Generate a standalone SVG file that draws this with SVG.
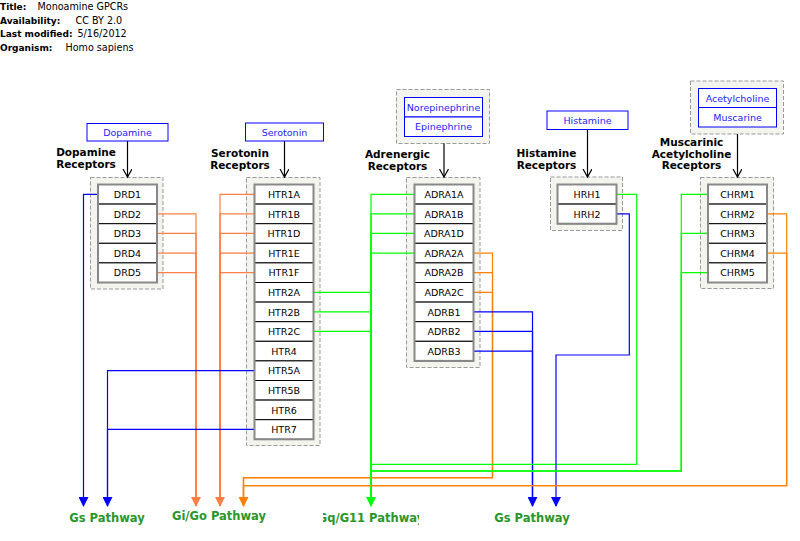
<svg xmlns="http://www.w3.org/2000/svg" width="800" height="541" viewBox="0 0 800 541">
<style>
text{font-family:"DejaVu Sans","Liberation Sans",sans-serif}
.hd{font-size:9.6px;fill:#000}
.hd .b{font-weight:bold;font-size:9px}
.grp{fill:#f4f4ee;stroke:#999;stroke-width:1;stroke-dasharray:4,2}
.stack{fill:none;stroke:#888;stroke-width:2}
.node rect{fill:#fff;stroke:#000;stroke-width:1}
.node text{font-size:9.5px;text-anchor:middle;fill:#000}
.met rect{fill:#fff;stroke:#00f;stroke-width:1}
.met text{font-size:9.5px;text-anchor:middle;fill:#22f}
.lbl{font-size:10.5px;font-weight:bold;text-anchor:middle;fill:#000}
.pw{font-size:11.5px;font-weight:bold;text-anchor:middle;fill:#2a962a}
.c{fill:none;stroke-width:1.2}
.blue{stroke:#0000ff}
.coral{stroke:#ff7f45}
.org{stroke:#ff8000}
.grn{stroke:#00ff00}
.ma{fill:none;stroke:#000;stroke-width:1.2}
</style>
<defs>
<marker id="aB" markerWidth="10" markerHeight="10" refX="9" refY="5" orient="auto" markerUnits="userSpaceOnUse"><path d="M0,0 L10,5 L0,10 Z" fill="#0000ff"/></marker>
<marker id="aC" markerWidth="10" markerHeight="10" refX="9" refY="5" orient="auto" markerUnits="userSpaceOnUse"><path d="M0,0 L10,5 L0,10 Z" fill="#ff7f45"/></marker>
<marker id="aO" markerWidth="10" markerHeight="10" refX="9" refY="5" orient="auto" markerUnits="userSpaceOnUse"><path d="M0,0 L10,5 L0,10 Z" fill="#ff8000"/></marker>
<marker id="aG" markerWidth="10" markerHeight="10" refX="9" refY="5" orient="auto" markerUnits="userSpaceOnUse"><path d="M0,0 L10,5 L0,10 Z" fill="#00ff00"/></marker>
<marker id="aV" markerWidth="10" markerHeight="10" refX="8" refY="4.5" orient="auto" markerUnits="userSpaceOnUse"><path d="M0,0 L8,4.5 L0,9" fill="none" stroke="#000" stroke-width="1.2"/></marker>
<clipPath id="gqclip"><rect x="323" y="505" width="96" height="25"/></clipPath>
</defs>

<g class="hd">
<text x="0" y="10"><tspan class="b">Title:</tspan></text><text x="37.5" y="10">Monoamine GPCRs</text>
<text x="0" y="23.5"><tspan class="b">Availability:</tspan></text><text x="75.5" y="23.5">CC BY 2.0</text>
<text x="0" y="37"><tspan class="b">Last modified:</tspan></text><text x="77.5" y="37">5/16/2012</text>
<text x="0" y="50.5"><tspan class="b">Organism:</tspan></text><text x="65.5" y="50.5">Homo sapiens</text>
</g>

<!-- group boxes -->
<g id="groups">
<rect class="grp" x="90.5" y="177.5" width="72.5" height="111.5"/>
<rect class="grp" x="246.5" y="177.5" width="73.5" height="268"/>
<rect class="grp" x="406.5" y="177.5" width="73.5" height="190"/>
<rect class="grp" x="550.5" y="177" width="72" height="53.5"/>
<rect class="grp" x="700.5" y="177.5" width="73" height="111"/>
<rect class="grp" x="396.5" y="89.5" width="93" height="54"/>
<rect class="grp" x="690.5" y="81" width="93" height="53"/>
</g>

<!-- connectors -->
<g id="connectors">
<path class="ma" d="M127.5,141 V177" marker-end="url(#aV)"/>
<path class="ma" d="M284.5,141 V177" marker-end="url(#aV)"/>
<path class="ma" d="M444,143.5 V177" marker-end="url(#aV)"/>
<path class="ma" d="M587.5,129.5 V177" marker-end="url(#aV)"/>
<path class="ma" d="M737.5,134 V177" marker-end="url(#aV)"/>

<path class="c blue" d="M98,194.3 H83.5 V506" marker-end="url(#aB)"/>
<path class="c coral" d="M157,213.9 H196 V506" marker-end="url(#aC)"/>
<path class="c coral" d="M157,233.3 H196 V506"/>
<path class="c coral" d="M157,253.1 H196 V506"/>
<path class="c coral" d="M157,272.7 H196 V506"/>

<path class="c coral" d="M254.5,194.3 H220 V506" marker-end="url(#aC)"/>
<path class="c coral" d="M254.5,213.9 H220 V506"/>
<path class="c coral" d="M254.5,233.3 H220 V506"/>
<path class="c coral" d="M254.5,253.1 H220 V506"/>
<path class="c coral" d="M254.5,272.7 H220 V506"/>
<path class="c grn" d="M313.5,292.3 H371 V506" marker-end="url(#aG)"/>
<path class="c grn" d="M313.5,311.9 H371 V506"/>
<path class="c grn" d="M313.5,331.3 H371 V506"/>
<path class="c blue" d="M254.5,370.7 H107.5 V506" marker-end="url(#aB)"/>
<path class="c blue" d="M254.5,429.3 H107.5 V506"/>

<path class="c grn" d="M414.5,194.3 H371 V506"/>
<path class="c grn" d="M414.5,213.9 H371 V506"/>
<path class="c grn" d="M414.5,233.3 H371 V506"/>
<path class="c grn" d="M414.5,253.1 H371 V506"/>
<path class="c org" d="M473.5,253.1 H492.5 V477.7 H243.5 V506" marker-end="url(#aO)"/>
<path class="c org" d="M473.5,272.7 H492.5 V477.7 H243.5 V506"/>
<path class="c org" d="M473.5,292.3 H492.5 V477.7 H243.5 V506"/>
<path class="c blue" d="M473.5,311.9 H532.5 V506" marker-end="url(#aB)"/>
<path class="c blue" d="M473.5,331.3 H532.5 V506"/>
<path class="c blue" d="M473.5,351.1 H532.5 V506"/>

<path class="c grn" d="M616.5,194.3 H636.7 V464.3 H371 V506"/>
<path class="c blue" d="M616.5,213.9 H629.3 V355 H556 V506" marker-end="url(#aB)"/>

<path class="c grn" d="M708,194.3 H681.3 V471 H371 V506"/>
<path class="c grn" d="M708,233.3 H681.3 V471 H371 V506"/>
<path class="c grn" d="M708,272.7 H681.3 V471 H371 V506"/>
<path class="c org" d="M767,213.9 H786.7 V485.7 H243.5 V506"/>
<path class="c org" d="M767,253.1 H786.7 V485.7 H243.5 V506"/>
</g>

<!-- metabolites -->
<g id="Dopamine" class="met"><rect x="87" y="123.5" width="81" height="17.5"/><text x="127.5" y="135.5">Dopamine</text></g>
<g id="Serotonin" class="met"><rect x="245.5" y="123" width="78" height="18"/><text x="284.5" y="135.5">Serotonin</text></g>
<g id="Norepinephrine" class="met"><rect x="404.5" y="97.5" width="78" height="19.5"/><text x="443.5" y="110.5">Norepinephrine</text></g>
<g id="Epinephrine" class="met"><rect x="404.5" y="117" width="78" height="19.5"/><text x="443.5" y="130">Epinephrine</text></g>
<g id="Histamine" class="met"><rect x="547" y="111" width="81" height="18.5"/><text x="587.5" y="123.5">Histamine</text></g>
<g id="Acetylcholine" class="met"><rect x="698.5" y="88.5" width="78" height="19"/><text x="737.5" y="101.5">Acetylcholine</text></g>
<g id="Muscarine" class="met"><rect x="698.5" y="107.5" width="78" height="19.5"/><text x="737.5" y="120.5">Muscarine</text></g>

<!-- receptor labels -->
<g id="labels">
<text class="lbl" x="86" y="155.5">Dopamine</text><text class="lbl" x="86" y="167.5">Receptors</text>
<text class="lbl" x="240" y="156.5">Serotonin</text><text class="lbl" x="240" y="168.5">Receptors</text>
<text class="lbl" x="397.5" y="157.5">Adrenergic</text><text class="lbl" x="397.5" y="169.5">Receptors</text>
<text class="lbl" x="546.5" y="156.5">Histamine</text><text class="lbl" x="546.5" y="168.5">Receptors</text>
<text class="lbl" x="691.5" y="146">Muscarinic</text><text class="lbl" x="691.5" y="157.5">Acetylcholine</text><text class="lbl" x="691.5" y="169">Receptors</text>
</g>

<!-- Dopamine receptors -->
<g id="DRD1" class="node"><rect x="98" y="184.5" width="59" height="19.6"/><text x="127.5" y="198">DRD1</text></g>
<g id="DRD2" class="node"><rect x="98" y="204.1" width="59" height="19.6"/><text x="127.5" y="217.6">DRD2</text></g>
<g id="DRD3" class="node"><rect x="98" y="223.7" width="59" height="19.6"/><text x="127.5" y="237.2">DRD3</text></g>
<g id="DRD4" class="node"><rect x="98" y="243.3" width="59" height="19.6"/><text x="127.5" y="256.8">DRD4</text></g>
<g id="DRD5" class="node"><rect x="98" y="262.9" width="59" height="19.6"/><text x="127.5" y="276.4">DRD5</text></g>
<rect class="stack" x="98" y="184.5" width="59" height="98"/>

<!-- Serotonin receptors -->
<g id="HTR1A" class="node"><rect x="254.5" y="184.5" width="59" height="19.6"/><text x="284" y="198">HTR1A</text></g>
<g id="HTR1B" class="node"><rect x="254.5" y="204.1" width="59" height="19.6"/><text x="284" y="217.6">HTR1B</text></g>
<g id="HTR1D" class="node"><rect x="254.5" y="223.7" width="59" height="19.6"/><text x="284" y="237.2">HTR1D</text></g>
<g id="HTR1E" class="node"><rect x="254.5" y="243.3" width="59" height="19.6"/><text x="284" y="256.8">HTR1E</text></g>
<g id="HTR1F" class="node"><rect x="254.5" y="262.9" width="59" height="19.6"/><text x="284" y="276.4">HTR1F</text></g>
<g id="HTR2A" class="node"><rect x="254.5" y="282.5" width="59" height="19.6"/><text x="284" y="296">HTR2A</text></g>
<g id="HTR2B" class="node"><rect x="254.5" y="302.1" width="59" height="19.6"/><text x="284" y="315.6">HTR2B</text></g>
<g id="HTR2C" class="node"><rect x="254.5" y="321.7" width="59" height="19.6"/><text x="284" y="335.2">HTR2C</text></g>
<g id="HTR4" class="node"><rect x="254.5" y="341.3" width="59" height="19.6"/><text x="284" y="354.8">HTR4</text></g>
<g id="HTR5A" class="node"><rect x="254.5" y="360.9" width="59" height="19.6"/><text x="284" y="374.4">HTR5A</text></g>
<g id="HTR5B" class="node"><rect x="254.5" y="380.5" width="59" height="19.6"/><text x="284" y="394">HTR5B</text></g>
<g id="HTR6" class="node"><rect x="254.5" y="400.1" width="59" height="19.6"/><text x="284" y="413.6">HTR6</text></g>
<g id="HTR7" class="node"><rect x="254.5" y="419.7" width="59" height="19.6"/><text x="284" y="433.2">HTR7</text></g>
<rect class="stack" x="254.5" y="184.5" width="59" height="254.8"/>

<!-- Adrenergic receptors -->
<g id="ADRA1A" class="node"><rect x="414.5" y="184.5" width="59" height="19.6"/><text x="444" y="198">ADRA1A</text></g>
<g id="ADRA1B" class="node"><rect x="414.5" y="204.1" width="59" height="19.6"/><text x="444" y="217.6">ADRA1B</text></g>
<g id="ADRA1D" class="node"><rect x="414.5" y="223.7" width="59" height="19.6"/><text x="444" y="237.2">ADRA1D</text></g>
<g id="ADRA2A" class="node"><rect x="414.5" y="243.3" width="59" height="19.6"/><text x="444" y="256.8">ADRA2A</text></g>
<g id="ADRA2B" class="node"><rect x="414.5" y="262.9" width="59" height="19.6"/><text x="444" y="276.4">ADRA2B</text></g>
<g id="ADRA2C" class="node"><rect x="414.5" y="282.5" width="59" height="19.6"/><text x="444" y="296">ADRA2C</text></g>
<g id="ADRB1" class="node"><rect x="414.5" y="302.1" width="59" height="19.6"/><text x="444" y="315.6">ADRB1</text></g>
<g id="ADRB2" class="node"><rect x="414.5" y="321.7" width="59" height="19.6"/><text x="444" y="335.2">ADRB2</text></g>
<g id="ADRB3" class="node"><rect x="414.5" y="341.3" width="59" height="19.6"/><text x="444" y="354.8">ADRB3</text></g>
<rect class="stack" x="414.5" y="184.5" width="59" height="176.4"/>

<!-- Histamine receptors -->
<g id="HRH1" class="node"><rect x="557.5" y="184.5" width="59" height="19.6"/><text x="587" y="198">HRH1</text></g>
<g id="HRH2" class="node"><rect x="557.5" y="204.1" width="59" height="19.6"/><text x="587" y="217.6">HRH2</text></g>
<rect class="stack" x="557.5" y="184.5" width="59" height="39.2"/>

<!-- Muscarinic receptors -->
<g id="CHRM1" class="node"><rect x="708" y="184.5" width="59" height="19.6"/><text x="737.5" y="198">CHRM1</text></g>
<g id="CHRM2" class="node"><rect x="708" y="204.1" width="59" height="19.6"/><text x="737.5" y="217.6">CHRM2</text></g>
<g id="CHRM3" class="node"><rect x="708" y="223.7" width="59" height="19.6"/><text x="737.5" y="237.2">CHRM3</text></g>
<g id="CHRM4" class="node"><rect x="708" y="243.3" width="59" height="19.6"/><text x="737.5" y="256.8">CHRM4</text></g>
<g id="CHRM5" class="node"><rect x="708" y="262.9" width="59" height="19.6"/><text x="737.5" y="276.4">CHRM5</text></g>
<rect class="stack" x="708" y="184.5" width="59" height="98"/>

<!-- pathways -->
<g id="GsPathway1"><text class="pw" x="107" y="521.5">Gs Pathway</text></g>
<g id="GiGoPathway"><text class="pw" x="219" y="519.5">Gi/Go Pathway</text></g>
<g id="GqPathway" clip-path="url(#gqclip)"><text class="pw" x="371" y="521.5">Gq/G11 Pathway</text></g>
<g id="GsPathway2"><text class="pw" x="532" y="521.5">Gs Pathway</text></g>
</svg>
